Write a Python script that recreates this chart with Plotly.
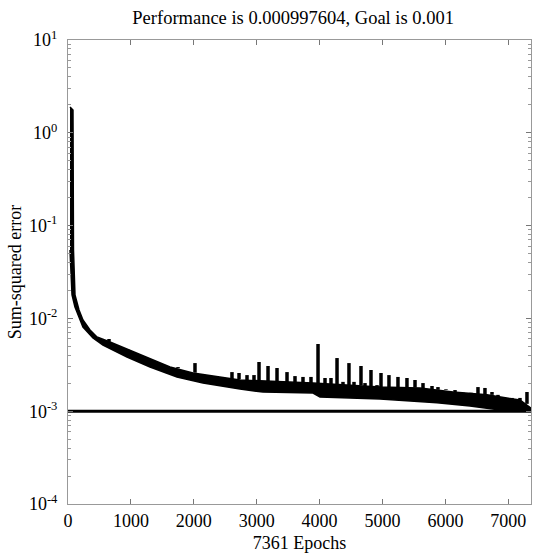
import plotly.graph_objects as go

# ---- data ----
total_epochs = 7361
goal = 0.001
performance = 0.000997604

upper_epochs = [32, 79, 87, 111, 175, 238, 350, 461, 668, 938, 1256, 1622, 1987, 2369, 2734,
                3895, 4960, 5596, 6121, 6661, 7186, 7361]
upper_vals = [1.90, 1.76, 0.0546, 0.0179, 0.01233, 0.00962, 0.0075, 0.00631, 0.00557, 0.00468,
              0.00374, 0.00299, 0.00258, 0.00234, 0.00217, 0.00201, 0.00182, 0.00178, 0.00161,
              0.00150, 0.00132, 0.00108]

lower_epochs = [32, 64, 111, 238, 397, 556, 938, 1304, 1733, 2146, 2734, 3100, 3895, 4006,
                4960, 5326, 5866, 6391, 6868, 7361]
lower_vals = [0.0546, 0.0179, 0.0133, 0.00807, 0.00615, 0.00517, 0.00384, 0.00299, 0.00234,
              0.00201, 0.00173, 0.00161, 0.00157, 0.00142, 0.00135, 0.00129, 0.00123, 0.00114,
              0.00103, 0.000997604]

spike_epochs = [652, 954, 1097, 1224, 1542, 1749, 2019, 2607, 2719, 2846, 2957, 3037, 3180, 3323,
                3482, 3609, 3736, 3863, 3975, 4086, 4181, 4277, 4372, 4467, 4547, 4658, 4722,
                4817, 4913, 4976, 5103, 5246, 5389, 5517, 5644, 5787, 5882, 6009, 6153, 6280,
                6407, 6518, 6629, 6741, 6836, 6947, 7059, 7186, 7297]
spike_peaks = [0.0060, 0.00456, 0.00424, 0.00384, 0.00315, 0.00299, 0.00330, 0.00264, 0.00258,
               0.00245, 0.00245, 0.00339, 0.00307, 0.00292, 0.00264, 0.00239, 0.00234, 0.00234,
               0.00530, 0.00228, 0.00228, 0.00374, 0.00207, 0.00330, 0.00207, 0.00307, 0.00201,
               0.00278, 0.00191, 0.00258, 0.00245, 0.00234, 0.00228, 0.00217, 0.00201, 0.00187,
               0.00182, 0.00173, 0.00169, 0.00161, 0.00161, 0.00182, 0.00178, 0.00161, 0.00150,
               0.00139, 0.00139, 0.00139, 0.00161]
spike_bases = [0.0056, 0.0046, 0.0042, 0.0038, 0.0031, 0.0029, 0.0026, 0.0022, 0.0022, 0.0021,
               0.0021, 0.0021, 0.0021, 0.0021, 0.0020, 0.0020, 0.0020, 0.0020, 0.0019, 0.0019,
               0.0019, 0.0019, 0.0019, 0.0019, 0.0019, 0.0019, 0.0018, 0.0018, 0.0018, 0.0018,
               0.0018, 0.0018, 0.0018, 0.0018, 0.0017, 0.0017, 0.0017, 0.0017, 0.0016, 0.0016,
               0.0016, 0.0015, 0.0015, 0.0015, 0.0014, 0.0013, 0.0013, 0.0013, 0.0012]

x_ticks = [0, 1000, 2000, 3000, 4000, 5000, 6000, 7000]
y_tickvals = [1e-4, 1e-3, 1e-2, 1e-1, 1e0, 1e1]
y_ticktext = ["10<sup>-4</sup>", "10<sup>-3</sup>", "10<sup>-2</sup>", "10<sup>-1</sup>",
              "10<sup>0</sup>", "10<sup>1</sup>"]

FONT = "Liberation Serif, Times New Roman, serif"

fig = go.Figure()

# training error band
fig.add_trace(go.Scatter(
    x=upper_epochs + lower_epochs[::-1],
    y=upper_vals + lower_vals[::-1],
    mode="lines", fill="toself", fillcolor="black",
    line=dict(color="black", width=1.5), hoverinfo="skip", showlegend=False))

# spikes
sx, sy = [], []
for e, b, p in zip(spike_epochs, spike_bases, spike_peaks):
    sx += [e, e, None]
    sy += [b, p, None]
fig.add_trace(go.Scatter(x=sx, y=sy, mode="lines",
                         line=dict(color="black", width=3.5), showlegend=False))

# goal line
fig.add_trace(go.Scatter(x=[0, total_epochs], y=[goal, goal], mode="lines",
                         line=dict(color="black", width=3), showlegend=False))

minor_vals = [m * d for d in y_tickvals[:-1] for m in range(2, 10)]

fig.update_layout(
    width=533, height=558,
    margin=dict(l=68, r=2, t=40, b=54),
    paper_bgcolor="white", plot_bgcolor="white",
    font=dict(family=FONT, size=18, color="black"),
    title=dict(text=f"Performance is {performance}, Goal is {goal}",
               x=0.55, xanchor="center", y=0.969, yanchor="middle",
               font=dict(family=FONT, size=18.5, color="black")),
    showlegend=False,
)

fig.update_xaxes(
    range=[0, total_epochs], tickvals=x_ticks, ticktext=[str(t) for t in x_ticks],
    ticks="inside", ticklen=5, tickcolor="#777", showline=True, linecolor="#999",
    linewidth=1, mirror="ticks", showgrid=False, zeroline=False,
    title=dict(text=f"{total_epochs} Epochs", standoff=6, font=dict(family=FONT, size=18)),
    tickfont=dict(family=FONT, size=18),
)
fig.update_yaxes(
    type="log", range=[-4, 1], tickvals=y_tickvals, ticktext=y_ticktext,
    ticks="inside", ticklen=5, tickcolor="#777", showline=True, linecolor="#999",
    linewidth=1, mirror="ticks", showgrid=False, zeroline=False,
    minor=dict(ticks="inside", ticklen=3, tickcolor="#999", tickvals=minor_vals, showgrid=False),
    title=dict(text="Sum-squared error", standoff=2, font=dict(family=FONT, size=18)),
    tickfont=dict(family=FONT, size=18), ticklabelstandoff=6,
)

fig.write_html("out.html")
